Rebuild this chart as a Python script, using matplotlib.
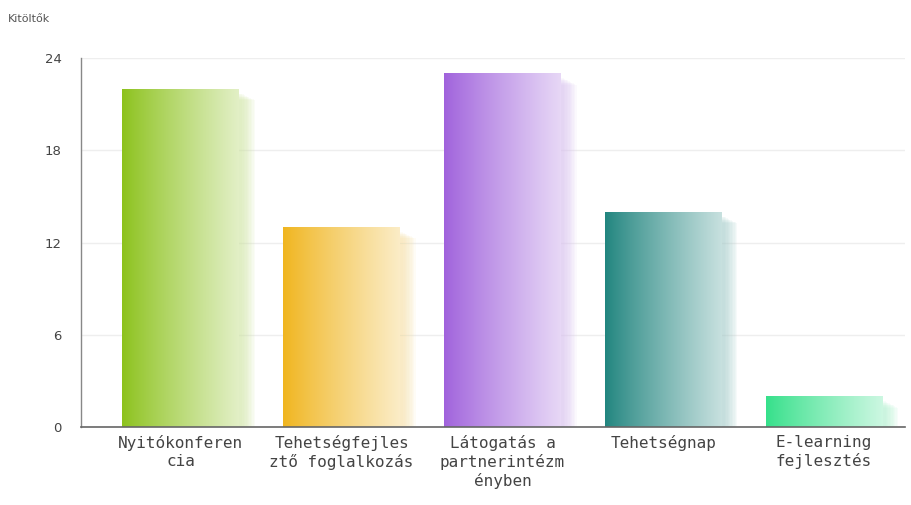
import numpy as np
import matplotlib
matplotlib.use("Agg")
import matplotlib.pyplot as plt
from matplotlib import transforms
from matplotlib.colors import to_rgb

categories = ["Nyitókonferen\ncia", "Tehetségfejles\nztő foglalkozás",
              "Látogatás a\npartnerintézm\nényben", "Tehetségnap", "E-learning\nfejlesztés"]
values = [22, 13, 23, 14, 2]
colors = ["#8cc21c", "#f0b51e", "#a062dc", "#21857f", "#35e08a"]
yticks = [0, 6, 12, 18, 24]
ylabel = "Kitöltők"

fig = plt.figure(figsize=(9.12, 5.05), dpi=100)
ax = fig.add_axes([81/912, 1-427/505, (905-81)/912, (427-58)/505])

x = np.arange(len(categories))
bars = ax.bar(x, values, width=0.727, color="none", edgecolor="none", zorder=3)

def lighten(c, f):
    c = np.array(to_rgb(c))
    return c + (1 - c) * f

for b, col in zip(bars, colors):
    x0, y0, w, h = b.get_x(), b.get_y(), b.get_width(), b.get_height()
    # shadow: blurred copies offset to the right/down
    for k in range(10):
        off = transforms.offset_copy(ax.transData, fig=fig, x=3 + k * 1.4, y=-5 - k * 0.7, units="dots")
        r = plt.Rectangle((x0, y0), w, h, transform=off, facecolor=lighten(col, 0.6),
                          edgecolor="none", alpha=0.09, zorder=2, clip_on=True)
        ax.add_patch(r)
    # horizontal gradient: dark left to light right
    n = 256
    t = np.linspace(0, 1, n)
    c0 = np.array(to_rgb(col))
    light = lighten(col, 0.75)
    f = t ** 0.9
    grad = (c0[None, :] * (1 - f[:, None]) + light[None, :] * f[:, None])
    img = grad[None, :, :]
    im = ax.imshow(img, extent=[x0, x0 + w, y0, y0 + h], aspect="auto", zorder=3,
                   interpolation="bilinear")
    im.set_clip_path(b)

ax.set_xlim(-0.621, 4.503)
ax.set_ylim(0, 24)
ax.set_yticks(yticks)
ax.set_yticklabels([str(v) for v in yticks], fontsize=9.5, color="#444444")
ax.set_xticks(x)
ax.set_xticklabels(categories, fontsize=11.5, color="#444444", family="DejaVu Sans Mono",
                   linespacing=1.2)
ax.tick_params(axis="y", length=0, pad=14)
ax.tick_params(axis="x", length=0, pad=6)
ax.grid(axis="y", color="#eeeeee", linewidth=1, zorder=0)
ax.set_axisbelow(True)
for s in ["top", "right"]:
    ax.spines[s].set_visible(False)
ax.spines["left"].set_color("#888888")
ax.spines["bottom"].set_color("#666666")
ax.spines["left"].set_linewidth(1)
ax.spines["bottom"].set_linewidth(1.2)
ax.spines["bottom"].set_zorder(4)

fig.text(8/912, 1-22/505, ylabel, fontsize=8, color="#555555")

fig.savefig("out.png", dpi=100)
